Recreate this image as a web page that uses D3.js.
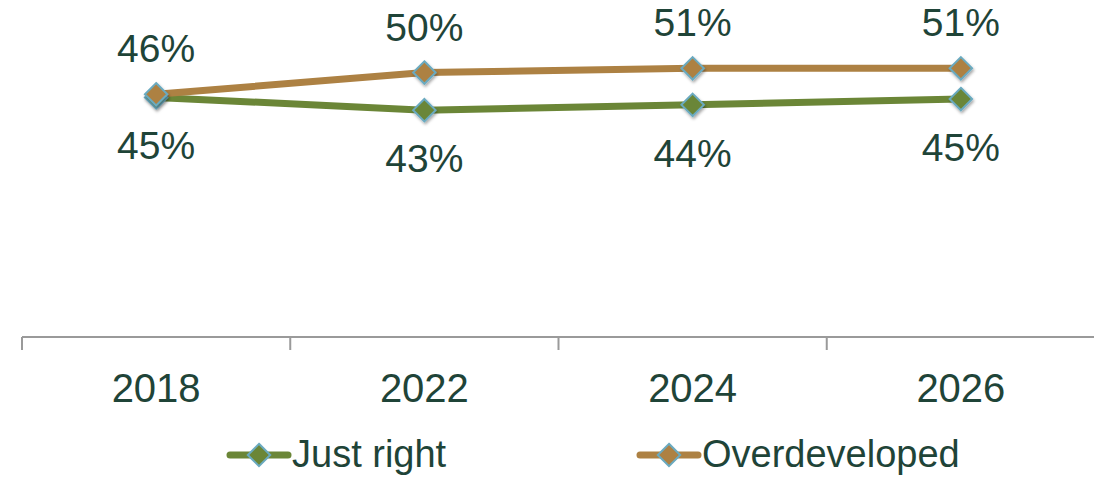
<!DOCTYPE html>
<meta charset="utf-8">
<style>
  body { margin: 0; background: #fff; }
  svg { display: block; font-family: "Liberation Sans", Arial, sans-serif; }
  .axis path, .axis line { stroke: #9a9a9a; stroke-width: 2; }
  .label { fill: #1f4438; font-size: 39px; }
</style>
<body>
<script src="https://cdn.jsdelivr.net/npm/d3@7"></script>
<script>
  // chart data
  var years = ['2018', '2022', '2024', '2026']
  var justRight = [45.2, 42.8, 43.8, 44.9]
  var overdeveloped = [45.8, 49.9, 50.7, 50.7]
  var justRightLabels = ['45%', '43%', '44%', '45%']
  var overLabels = ['46%', '50%', '51%', '51%']

  var width = 1094, height = 479
  var green = '#6b8637', tan = '#ad8143', markerStroke = '#6aaac0'

  var series = [
    { name: 'Just right', values: justRight, labels: justRightLabels, color: green, dy: 62 },
    { name: 'Overdeveloped', values: overdeveloped, labels: overLabels, color: tan, dy: -32 }
  ]

  var svg = d3.select('body').append('svg')
    .attr('width', width)
    .attr('height', height)

  var defs = svg.append('defs')
  var shadow = defs.append('filter').attr('id', 'shadow')
    .attr('x', '-50%').attr('y', '-50%').attr('width', '200%').attr('height', '200%')
  shadow.append('feDropShadow')
    .attr('dx', 1).attr('dy', 2).attr('stdDeviation', 1.5)
    .attr('flood-color', '#000').attr('flood-opacity', 0.35)

  var x = d3.scaleBand().domain(years).range([22, 1095]).padding(0)
  var y = d3.scaleLinear().domain([0, 60]).range([337, 19])
  var cx = function (d) { return x(d) + x.bandwidth() / 2 }

  // x axis: domain line + ticks at band edges, labels centred
  var axisY = y(0)
  var axis = svg.append('g').attr('class', 'axis')
  axis.append('line')
    .attr('x1', x.range()[0]).attr('x2', width)
    .attr('y1', axisY).attr('y2', axisY)
  axis.selectAll('.tick-edge')
    .data(years)
    .enter().append('line')
    .attr('x1', function (d) { return x(d) })
    .attr('x2', function (d) { return x(d) })
    .attr('y1', axisY).attr('y2', axisY + 13)

  svg.selectAll('.year')
    .data(years)
    .enter().append('text')
    .attr('class', 'label')
    .attr('x', cx)
    .attr('y', 402)
    .attr('text-anchor', 'middle')
    .style('font-size', '40px')
    .text(function (d) { return d })

  var line = d3.line()
    .x(function (d, i) { return cx(years[i]) })
    .y(function (d) { return y(d) })

  var diamond = d3.symbol().type(d3.symbolDiamond2).size(320)

  // lines (just right drawn first so the tan one sits on top)
  series.forEach(function (s) {
    svg.append('path')
      .datum(s.values)
      .attr('d', line)
      .attr('fill', 'none')
      .attr('stroke', s.color)
      .attr('stroke-width', 7)
      .attr('stroke-linejoin', 'round')
  })

  series.forEach(function (s) {
    svg.append('g').selectAll('path')
      .data(s.values)
      .enter().append('path')
      .attr('d', diamond)
      .attr('transform', function (d, i) { return 'translate(' + cx(years[i]) + ',' + y(d) + ')' })
      .attr('fill', s.color)
      .attr('stroke', markerStroke)
      .attr('stroke-width', 2)
      .attr('filter', 'url(#shadow)')

    svg.append('g').selectAll('text')
      .data(s.values)
      .enter().append('text')
      .attr('class', 'label')
      .attr('x', function (d, i) { return cx(years[i]) })
      .attr('y', function (d) { return y(d) + s.dy })
      .attr('text-anchor', 'middle')
      .text(function (d, i) { return s.labels[i] })
  })

  // legend
  var legendX = [230, 640]
  var legendY = 455
  series.forEach(function (s, i) {
    var g = svg.append('g').attr('transform', 'translate(' + legendX[i] + ',' + legendY + ')')
    g.append('line')
      .attr('x1', 0).attr('x2', 58)
      .attr('y1', 0).attr('y2', 0)
      .attr('stroke', s.color)
      .attr('stroke-width', 7)
      .attr('stroke-linecap', 'round')
    g.append('path')
      .attr('d', diamond)
      .attr('transform', 'translate(29,0)')
      .attr('fill', s.color)
      .attr('stroke', markerStroke)
      .attr('stroke-width', 2)
    g.append('text')
      .attr('class', 'label')
      .attr('x', 62)
      .attr('y', 12)
      .style('font-size', '38px')
      .text(s.name)
  })
</script>
</body>
